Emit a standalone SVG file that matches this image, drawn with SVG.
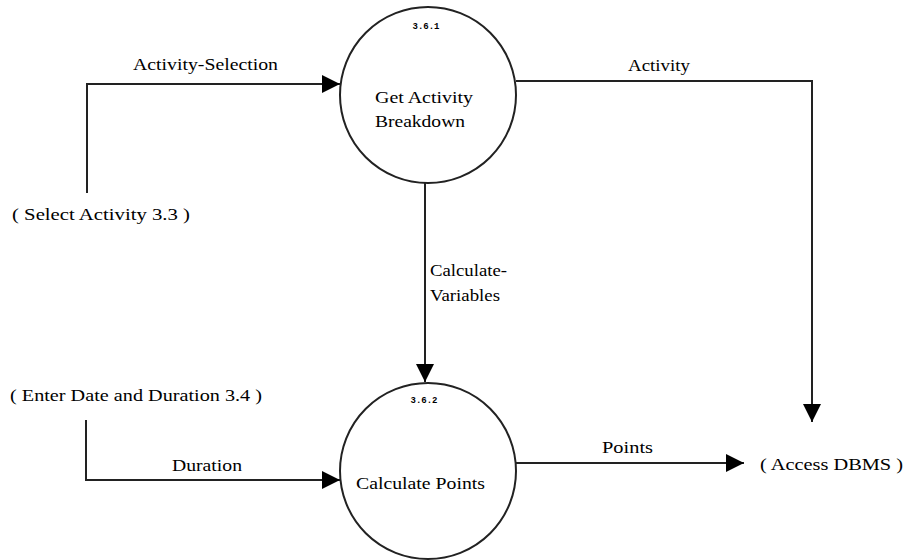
<svg xmlns="http://www.w3.org/2000/svg" width="910" height="560" viewBox="0 0 910 560">
<defs>
<marker id="ah" viewBox="0 0 18 18" refX="18" refY="9" markerWidth="18" markerHeight="18" markerUnits="userSpaceOnUse" orient="auto">
<path d="M0,0 L18,9 L0,18 Z" fill="#000"/>
</marker>
<style>
text{font-family:"Liberation Serif","Times New Roman",serif;font-size:17px;fill:#000}
.id{font-family:"Liberation Mono",monospace;font-size:9px;font-weight:bold}
.proc{fill:#fff;stroke:#222;stroke-width:2}
.flow{fill:none;stroke:#222;stroke-width:2}
</style>
</defs>
<rect width="910" height="560" fill="#fff"/>
<g id="connectors">
<polyline class="flow" points="87,193 87,84 340,84" marker-end="url(#ah)"/>
<polyline class="flow" points="516,81 812,81 812,422" marker-end="url(#ah)"/>
<line class="flow" x1="425" y1="183" x2="425" y2="382" marker-end="url(#ah)"/>
<polyline class="flow" points="86,420 86,480 340,480" marker-end="url(#ah)"/>
<line class="flow" x1="516" y1="463" x2="744" y2="463" marker-end="url(#ah)"/>
<text x="133" y="70" textLength="145" lengthAdjust="spacingAndGlyphs">Activity-Selection</text>
<text x="628" y="71" textLength="62" lengthAdjust="spacingAndGlyphs">Activity</text>
<text x="430" y="276" textLength="77" lengthAdjust="spacingAndGlyphs">Calculate-</text>
<text x="430" y="301" textLength="70" lengthAdjust="spacingAndGlyphs">Variables</text>
<text x="172" y="471" textLength="70" lengthAdjust="spacingAndGlyphs">Duration</text>
<text x="602" y="453" textLength="51" lengthAdjust="spacingAndGlyphs">Points</text>
</g>
<g id="p1">
<circle class="proc" cx="428" cy="95" r="88"/>
<text class="id" x="426" y="29" text-anchor="middle">3.6.1</text>
<text x="375" y="103" textLength="98" lengthAdjust="spacingAndGlyphs">Get Activity</text>
<text x="375" y="127" textLength="90" lengthAdjust="spacingAndGlyphs">Breakdown</text>
</g>
<g id="p2">
<circle class="proc" cx="428" cy="471" r="88"/>
<text class="id" x="424" y="403" text-anchor="middle">3.6.2</text>
<text x="356" y="489" textLength="129" lengthAdjust="spacingAndGlyphs">Calculate Points</text>
</g>
<g id="ext1">
<text x="12" y="220" textLength="178" lengthAdjust="spacingAndGlyphs">( Select Activity 3.3 )</text>
</g>
<g id="ext2">
<text x="10" y="401" textLength="252" lengthAdjust="spacingAndGlyphs">( Enter Date and Duration 3.4 )</text>
</g>
<g id="ext3">
<text x="760" y="470" textLength="143" lengthAdjust="spacingAndGlyphs">( Access DBMS )</text>
</g>
</svg>
